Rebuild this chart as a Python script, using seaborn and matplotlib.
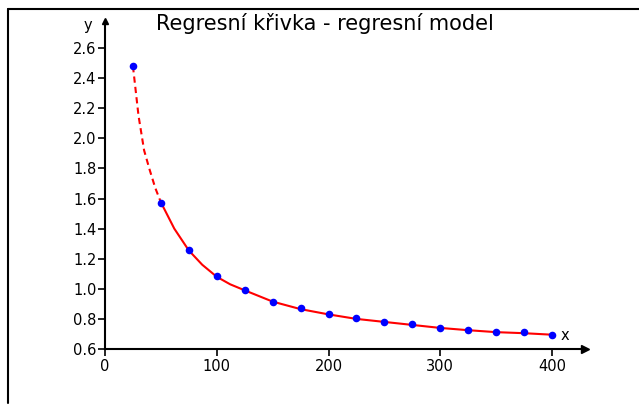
import matplotlib
matplotlib.use("Agg")
import matplotlib.pyplot as plt
from matplotlib.lines import Line2D
import seaborn as sns
import pandas as pd

# Measured points
x_points = [25, 50, 75, 100, 125, 150, 175, 200, 225, 250, 275, 300, 325, 350, 375, 400]
y_points = [2.48, 1.57, 1.26, 1.085, 0.99, 0.91, 0.87, 0.83, 0.805, 0.778, 0.765, 0.738, 0.725, 0.712, 0.711, 0.695]

# Fitted regression curve (dashed part below the first fully fitted point, solid after)
curve_dash_x = [25, 30, 35, 40, 45, 50]
curve_dash_y = [2.48, 2.15, 1.92, 1.79, 1.67, 1.575]
curve_solid_x = [50, 62, 75, 87, 100, 112, 125, 150, 175, 200, 225, 250, 275, 300, 325, 350, 375, 400]
curve_solid_y = [1.575, 1.40, 1.255, 1.16, 1.08, 1.03, 0.99, 0.915, 0.865, 0.83, 0.80, 0.78, 0.76, 0.74, 0.725, 0.712, 0.705, 0.695]

x_ticks = [0, 100, 200, 300, 400]
y_ticks = [0.6, 0.8, 1.0, 1.2, 1.4, 1.6, 1.8, 2.0, 2.2, 2.4, 2.6]

title = "Regresní křivka - regresní model"

sns.set_style("white")
plt.rcParams["font.family"] = ["DejaVu Sans"]
plt.rcParams["text.color"] = "black"

W, H = 639, 405
fig = plt.figure(figsize=(W / 100, H / 100), dpi=100)

# axes frame in pixel coordinates: x 0..429.5 -> 105..585, y 0.6..2.78 -> 349..21
x_end, y_end = 429.5, 2.78
left, right, bottom, top = 105, 585, 349, 21
ax = fig.add_axes([left / W, 1 - bottom / H, (right - left) / W, (bottom - top) / H])
ax.set_xlim(0, x_end)
ax.set_ylim(0.6, y_end)

df_pts = pd.DataFrame({"x": x_points, "y": y_points})
df_dash = pd.DataFrame({"x": curve_dash_x, "y": curve_dash_y})
df_solid = pd.DataFrame({"x": curve_solid_x, "y": curve_solid_y})

sns.lineplot(data=df_dash, x="x", y="y", ax=ax, color="#ff0000", lw=1.5,
             linestyle=(0, (3, 2)), sort=False, zorder=2)
sns.lineplot(data=df_solid, x="x", y="y", ax=ax, color="#ff0000", lw=1.5,
             sort=False, zorder=2)
sns.scatterplot(data=df_pts, x="x", y="y", ax=ax, color="#0000ff", s=30,
                edgecolor="#0000ff", linewidth=0, zorder=3, clip_on=False)

for s in ("top", "right"):
    ax.spines[s].set_visible(False)
for s in ("left", "bottom"):
    ax.spines[s].set_linewidth(1.5)
    ax.spines[s].set_color("black")

ax.set_xticks(x_ticks)
ax.set_yticks(y_ticks)
ax.set_xticklabels([str(t) for t in x_ticks])
ax.set_yticklabels([f"{t:.1f}" for t in y_ticks])
ax.tick_params(axis="both", direction="out", length=5, width=1.2, color="black",
               labelsize=10.5, labelcolor="black", pad=1)
ax.tick_params(axis="x", bottom=True, pad=2)
ax.tick_params(axis="y", left=True)
ax.set_xlabel("")
ax.set_ylabel("")

# axis arrow heads
ax.plot([x_end], [0.6], marker=">", color="black", ms=6, clip_on=False, zorder=4)
ax.plot([0], [y_end], marker="^", color="black", ms=5, clip_on=False, zorder=4)
ax.text(x_end - 18, 0.64, "x", fontsize=10.5, color="black", ha="center", va="bottom")
ax.text(-15, y_end - 0.03, "y", fontsize=10.5, color="black", ha="center", va="center")

fig.text(325 / W, 1 - 23 / H, title, fontsize=15, color="black", ha="center", va="center")

# figure frame lines (top and left)
fig.add_artist(Line2D([8 / W, 1], [1 - 9 / H, 1 - 9 / H], color="black", lw=1.5,
                      transform=fig.transFigure))
fig.add_artist(Line2D([8 / W, 8 / W], [1 - 9 / H, 1 - 403 / H], color="black", lw=1.5,
                      transform=fig.transFigure))

fig.savefig("out.png", dpi=100)
